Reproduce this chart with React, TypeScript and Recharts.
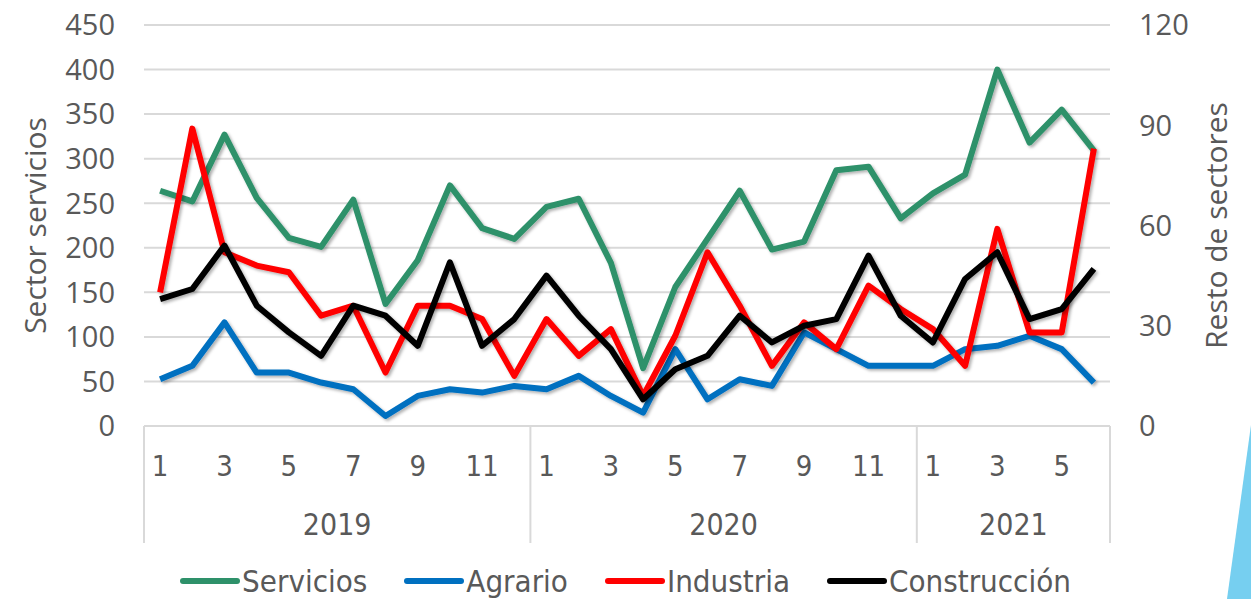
import React from "react";
import { LineChart, Line, XAxis, YAxis, CartesianGrid, Legend } from "recharts";

// categories
const months = [1, 2, 3, 4, 5, 6, 7, 8, 9, 10, 11, 12, 1, 2, 3, 4, 5, 6, 7, 8, 9, 10, 11, 12, 1, 2, 3, 4, 5, 6];
const years = ["2019", "2020", "2021"];
const monthsPerYear = [12, 12, 6];

// series
const servicios = [264, 252, 327, 256, 211, 201, 254, 137, 186, 270, 222, 210, 246, 255, 183, 65, 156, 210, 264, 198, 207, 287, 291, 233, 261, 282, 400, 318, 355, 309];
const agrario = [14, 18, 31, 16, 16, 13, 11, 3, 9, 11, 10, 12, 11, 15, 9, 4, 23, 8, 14, 12, 28, 23, 18, 18, 18, 23, 24, 27, 23, 13];
const industria = [40, 89, 52, 48, 46, 33, 36, 16, 36, 36, 32, 15, 32, 21, 29, 9, 27, 52, 36, 18, 31, 23, 42, 35, 29, 18, 59, 28, 28, 83];
const construccion = [38, 41, 54, 36, 28, 21, 36, 33, 24, 49, 24, 32, 45, 33, 23, 8, 17, 21, 33, 25, 30, 32, 51, 33, 25, 44, 52, 32, 35, 47];

const leftTicks = [0, 50, 100, 150, 200, 250, 300, 350, 400, 450];
const rightTicks = [0, 30, 60, 90, 120];

const series = [
  { key: "servicios", name: "Servicios", color: "#2E916A", axis: "left" },
  { key: "agrario", name: "Agrario", color: "#0070C0", axis: "right" },
  { key: "industria", name: "Industria", color: "#FF0000", axis: "right" },
  { key: "construccion", name: "Construcción", color: "#000000", axis: "right" },
];

const data = months.map((m, i) => ({
  idx: i,
  month: m,
  servicios: servicios[i],
  agrario: agrario[i],
  industria: industria[i],
  construccion: construccion[i],
}));

const W = 1251;
const H = 599;
const PLOT_LEFT = 144;
const PLOT_RIGHT = 1110;
const BAND = (PLOT_RIGHT - PLOT_LEFT) / months.length;
const TEXT = "#595959";
const GRID = "#D9D9D9";
const CAT_FONT = "'DejaVu Sans Condensed', 'DejaVu Sans', sans-serif";
const NUM_FONT = "'Open Sans', sans-serif";

const groupStarts = monthsPerYear.map((_, g) => monthsPerYear.slice(0, g).reduce((a, b) => a + b, 0));

function MonthTick({ x, y, payload }: any) {
  const m = months[payload.index];
  if (m % 2 === 0) return null;
  return (
    <text x={x} y={y + 40} textAnchor="middle" dominantBaseline="central" fill={TEXT} fontSize={29} fontFamily={CAT_FONT}>
      {m}
    </text>
  );
}

function YearTick({ x, y, payload }: any) {
  const i = payload.index;
  const g = groupStarts.indexOf(i);
  const top = y - 57;
  const bottom = y + 60;
  return (
    <g>
      {g >= 0 && (
        <>
          <line x1={x - BAND / 2} x2={x - BAND / 2} y1={top} y2={bottom} stroke={GRID} strokeWidth={2} />
          <text
            x={x - BAND / 2 + (monthsPerYear[g] * BAND) / 2}
            y={y + 41}
            textAnchor="middle"
            dominantBaseline="central"
            fill={TEXT}
            fontSize={30}
            fontFamily={CAT_FONT}
          >
            {years[g]}
          </text>
        </>
      )}
      {i === months.length - 1 && (
        <line x1={x + BAND / 2} x2={x + BAND / 2} y1={top} y2={bottom} stroke={GRID} strokeWidth={2} />
      )}
    </g>
  );
}

function AxisTitle({ viewBox, text, dx }: any) {
  const cx = viewBox.x + dx;
  const cy = viewBox.y + viewBox.height / 2;
  return (
    <text
      x={cx}
      y={cy}
      transform={`rotate(-90 ${cx} ${cy})`}
      textAnchor="middle"
      dominantBaseline="central"
      fill={TEXT}
      fontSize={30}
      fontFamily={NUM_FONT}
    >
      {text}
    </text>
  );
}

function LegendContent() {
  return (
    <div style={{ display: "flex", justifyContent: "center", alignItems: "center", height: 40, gap: 37 }}>
      {series.map((s) => (
        <div key={s.key} style={{ display: "flex", alignItems: "center" }}>
          <svg width={60} height={10} style={{ marginRight: 2 }}>
            <line x1={3} x2={57} y1={5} y2={5} stroke={s.color} strokeWidth={6} strokeLinecap="round" />
          </svg>
          <span style={{ fontFamily: CAT_FONT, fontSize: 31, color: TEXT, lineHeight: "40px" }}>{s.name}</span>
        </div>
      ))}
    </div>
  );
}

export default function App() {
  return (
    <div style={{ position: "absolute", left: 0, top: 0, width: W, height: H, background: "#fff", overflow: "hidden" }}>
      <LineChart width={W} height={H} data={data} margin={{ top: 25, right: 0, bottom: 16, left: 0 }}>
        <defs>
          <filter id="lineShadow" x="-5%" y="-10%" width="110%" height="130%">
            <feDropShadow dx={2} dy={2} stdDeviation={1.5} floodColor="#000" floodOpacity={0.3} />
          </filter>
        </defs>
        <CartesianGrid yAxisId="left" vertical={false} stroke={GRID} strokeWidth={2} />
        <XAxis
          dataKey="idx"
          interval={0}
          height={57}
          padding={{ left: BAND / 2, right: BAND / 2 }}
          tickSize={0}
          tickMargin={0}
          tickLine={false}
          axisLine={{ stroke: GRID, strokeWidth: 2 }}
          tick={<MonthTick />}
        />
        <XAxis
          xAxisId="year"
          dataKey="idx"
          interval={0}
          height={60}
          padding={{ left: BAND / 2, right: BAND / 2 }}
          tickSize={0}
          tickMargin={0}
          tickLine={false}
          axisLine={false}
          tick={<YearTick />}
        />
        <YAxis
          yAxisId="left"
          width={PLOT_LEFT}
          domain={[0, 450]}
          ticks={leftTicks}
          interval={0}
          tickSize={0}
          tickMargin={29}
          tickLine={false}
          axisLine={false}
          tick={{ fill: TEXT, fontSize: 29, fontFamily: NUM_FONT }}
          label={{ content: (p: any) => <AxisTitle {...p} text="Sector servicios" dx={34} /> }}
        />
        <YAxis
          yAxisId="right"
          orientation="right"
          width={W - PLOT_RIGHT}
          domain={[0, 120]}
          ticks={rightTicks}
          interval={0}
          tickSize={0}
          tickMargin={29}
          tickLine={false}
          axisLine={false}
          tick={{ fill: TEXT, fontSize: 29, fontFamily: NUM_FONT }}
          label={{ content: (p: any) => <AxisTitle {...p} text="Resto de sectores" dx={105} /> }}
        />
        <Legend verticalAlign="bottom" content={<LegendContent />} wrapperStyle={{ bottom: -2 }} />
        {series.map((s) => (
          <Line
            key={s.key}
            yAxisId={s.axis}
            dataKey={s.key}
            name={s.name}
            stroke={s.color}
            strokeWidth={6}
            strokeLinejoin="round"
            filter="url(#lineShadow)"
            dot={false}
            activeDot={false}
            isAnimationActive={false}
          />
        ))}
      </LineChart>
      <svg width={W} height={H} style={{ position: "absolute", left: 0, top: 0, pointerEvents: "none" }}>
        <polygon points={`${W},425 1227,${H} ${W},${H}`} fill="#76CFF0" />
      </svg>
    </div>
  );
}
